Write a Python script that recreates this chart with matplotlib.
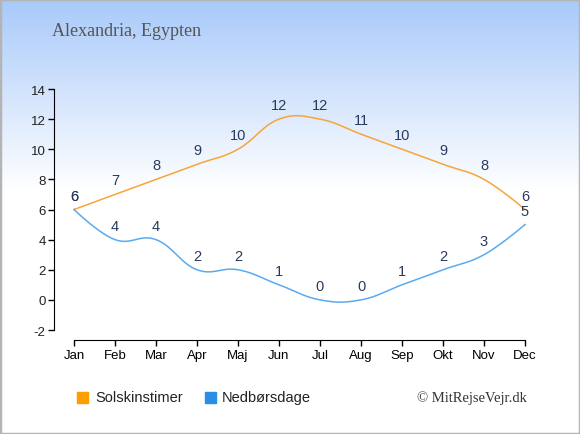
import numpy as np
import matplotlib.pyplot as plt
from matplotlib.patches import Rectangle

plt.rcParams['font.family'] = ['Liberation Sans', 'DejaVu Sans']
plt.rcParams['axes.unicode_minus'] = False

# data
months = ['Jan', 'Feb', 'Mar', 'Apr', 'Maj', 'Jun', 'Jul', 'Aug', 'Sep', 'Okt', 'Nov', 'Dec']
sun_hours = [6, 7, 8, 9, 10, 12, 12, 11, 10, 9, 8, 6]
rain_days = [6, 4, 4, 2, 2, 1, 0, 0, 1, 2, 3, 5]
yticks = [-2, 0, 2, 4, 6, 8, 10, 12, 14]


def spline(xs, ys, n=30):
    # smooth path through the points, cubic bezier segments (no clamping)
    xs = np.asarray(xs, float)
    ys = np.asarray(ys, float)
    k = len(xs)
    lc = np.column_stack([xs, ys]).astype(float)
    rc = lc.copy()
    sm, den = 1.5, 2.5
    for i in range(1, k - 1):
        px, py = xs[i], ys[i]
        lx, ly = xs[i - 1], ys[i - 1]
        nx, ny = xs[i + 1], ys[i + 1]
        lcx, lcy = (sm * px + lx) / den, (sm * py + ly) / den
        rcx, rcy = (sm * px + nx) / den, (sm * py + ny) / den
        corr = (rcy - lcy) * (rcx - px) / (rcx - lcx) + py - rcy
        lc[i] = [lcx, lcy + corr]
        rc[i] = [rcx, rcy + corr]
    t = np.linspace(0, 1, n)[:, None]
    out = []
    for i in range(k - 1):
        p0 = np.array([xs[i], ys[i]])
        p3 = np.array([xs[i + 1], ys[i + 1]])
        p1, p2 = rc[i], lc[i + 1]
        seg = ((1 - t) ** 3) * p0 + 3 * ((1 - t) ** 2) * t * p1 + 3 * (1 - t) * t ** 2 * p2 + t ** 3 * p3
        out.append(seg if i == 0 else seg[1:])
    out = np.vstack(out)
    return out[:, 0], out[:, 1]


fig = plt.figure(figsize=(5.8, 4.35), dpi=100)

# gradient background
bg = fig.add_axes([0, 0, 1, 1], zorder=-10)
grad = np.linspace(0, 1, 435)
top = np.array([0.66, 0.79, 0.98])
white = np.array([1.0, 1.0, 1.0])
f = np.clip(grad / 0.44, 0, 1)[:, None]
img = top * (1 - f) + white * f
bg.imshow(img[:, None, :], aspect='auto', extent=[0, 1, 0, 1])
bg.add_patch(Rectangle((0, 0), 1, 1, transform=bg.transAxes, fill=False,
                       edgecolor='#b4b4b4', linewidth=2.5))
bg.set_xlim(0, 1)
bg.set_ylim(0, 1)
bg.axis('off')

ax = fig.add_axes([54 / 580, 1 - 331 / 435, 491 / 580, 241 / 435])
ax.patch.set_alpha(0)

x = np.arange(len(months))
sx, sy = spline(x, sun_hours)
rx, ry = spline(x, rain_days)
ax.plot(sx, sy, color='#f8a43a', linewidth=1.1)
ax.plot(rx, ry, color='#5aaaf0', linewidth=1.1)

for xi, v in zip(x, sun_hours):
    ax.annotate(str(v), (xi, v), xytext=(0, 5), textcoords='offset points',
                ha='center', va='bottom', fontsize=10.5, color='#2a3a5c')
for xi, v in zip(x, rain_days):
    ax.annotate(str(v), (xi, v), xytext=(0, 5), textcoords='offset points',
                ha='center', va='bottom', fontsize=10.5, color='#2a3a5c')

ax.set_xlim(-20 / 41, 11 + 20 / 41)
ax.set_ylim(-2, 14)
ax.set_yticks(yticks)
ax.set_xticks(x)
ax.set_xticklabels(months)
ax.tick_params(axis='both', labelsize=9.5, colors='black', length=4, width=1)
ax.tick_params(axis='x', pad=3)
ax.tick_params(axis='y', pad=2)
for lbl in ax.get_xticklabels() + ax.get_yticklabels():
    lbl.set_color('#222222')
ax.spines['top'].set_visible(False)
ax.spines['right'].set_visible(False)
ax.spines['left'].set_bounds(-2, 14)
ax.spines['bottom'].set_position(('outward', 7))
ax.spines['bottom'].set_bounds(0, 11)

fig.text(52 / 580, 1 - 32 / 435, 'Alexandria, Egypten', fontsize=13,
         family='Liberation Serif', color='#555555', va='center')

# legend
fig.patches.append(Rectangle((77 / 580, 1 - 404 / 435), 11 / 580, 11 / 435,
                             transform=fig.transFigure, color='#ff9c00'))
fig.text(95 / 580, 1 - 398 / 435, 'Solskinstimer', fontsize=10.5, color='#222222', va='center')
fig.patches.append(Rectangle((205 / 580, 1 - 404 / 435), 11 / 580, 11 / 435,
                             transform=fig.transFigure, color='#2a8ee6'))
fig.text(222 / 580, 1 - 398 / 435, 'Nedbørsdage', fontsize=10.5, color='#222222', va='center')
fig.text(527 / 580, 1 - 398 / 435, '© MitRejseVejr.dk', fontsize=10.5,
         family='Liberation Serif', color='#333333', va='center', ha='right')

fig.savefig('out.png', dpi=100)
